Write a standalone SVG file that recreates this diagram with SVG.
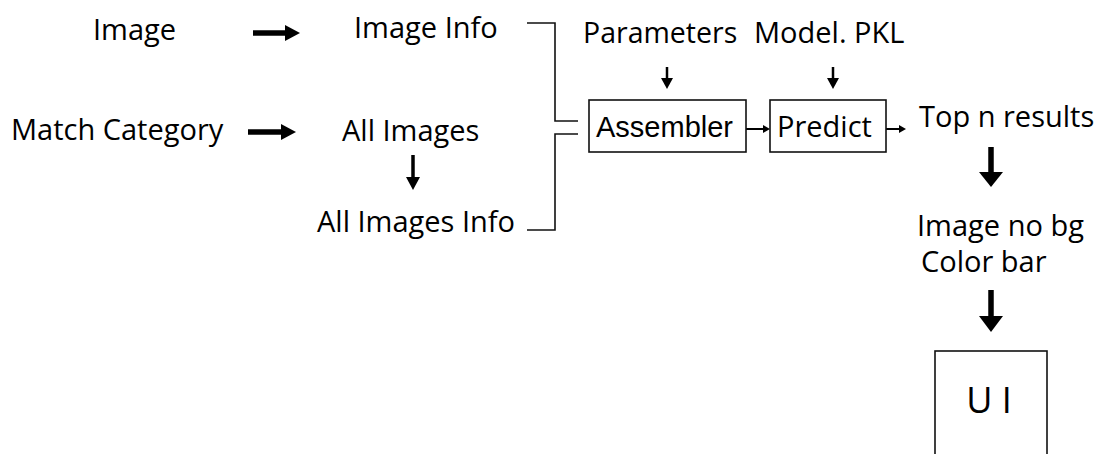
<svg xmlns="http://www.w3.org/2000/svg" width="1098" height="454" viewBox="0 0 1098 454">
  <style>
    .t { font-family: "Open Sans", "Noto Sans", sans-serif; font-size: 29px; fill: #000; }
    .ta { font-family: "Liberation Sans", Arial, sans-serif; font-size: 29px; fill: #000; }
    .t.narrow { font-size: 28.5px; }
    .t.big { font-size: 36px; }
    .box { fill: #fff; stroke: #111; stroke-width: 1.6; }
    .line { fill: none; stroke: #111; stroke-width: 1.6; }
    .thick { fill: none; stroke: #000; stroke-width: 5.5; }
    .mid { fill: none; stroke: #000; stroke-width: 3.5; }
    .thin { fill: none; stroke: #000; stroke-width: 2.5; }
    .hair { fill: none; stroke: #000; stroke-width: 2; }
    .head { fill: #000; }
  </style>
  <rect width="1098" height="454" fill="#fff"/>

  <g id="connectors">
    <!-- Image -> Image Info -->
    <line class="thick" x1="253" y1="33" x2="287" y2="33"/>
    <polygon class="head" points="285,25 300,33 285,41"/>
    <!-- Match Category -> All Images -->
    <line class="thick" x1="248" y1="132" x2="283" y2="132"/>
    <polygon class="head" points="281,124 296,132 281,140"/>
    <!-- All Images -> All Images Info -->
    <line class="mid" x1="413" y1="155" x2="413" y2="179"/>
    <polygon class="head" points="406,177 413,190 420,177"/>
    <!-- bracket joining both info streams into Assembler -->
    <polyline class="line" points="527,23 555,23 555,121 578,121"/>
    <polyline class="line" points="578,134 555,134 555,230 527,230"/>
    <!-- Parameters -> Assembler -->
    <line class="thin" x1="667" y1="67" x2="667" y2="80"/>
    <polygon class="head" points="661,78 667,89 673,78"/>
    <!-- Model.PKL -> Predict -->
    <line class="thin" x1="833" y1="67" x2="833" y2="80"/>
    <polygon class="head" points="827,78 833,89 839,78"/>
    <!-- Assembler -> Predict -->
    <line class="hair" x1="746" y1="129" x2="764" y2="129"/>
    <polygon class="head" points="763,125 770,129 763,133"/>
    <!-- Predict -> Top n results -->
    <line class="hair" x1="886" y1="129" x2="900" y2="129"/>
    <polygon class="head" points="899,125 906,129 899,133"/>
    <!-- Top n results -> Image no bg -->
    <line class="thick" x1="991" y1="147" x2="991" y2="174"/>
    <polygon class="head" points="979,172 991,187 1003,172"/>
    <!-- Color bar -> UI -->
    <line class="thick" x1="991" y1="290" x2="991" y2="318"/>
    <polygon class="head" points="979,316 991,332 1003,316"/>
  </g>

  <g id="image"><text class="t" x="93" y="40">Image</text></g>
  <g id="image-info"><text class="t" x="354" y="38">Image Info</text></g>
  <g id="match-category"><text class="t" x="11" y="140">Match Category</text></g>
  <g id="all-images"><text class="t" x="342" y="141">All Images</text></g>
  <g id="all-images-info"><text class="t" x="317" y="232">All Images Info</text></g>
  <g id="parameters"><text class="t narrow" x="583" y="43">Parameters</text></g>
  <g id="model-pkl"><text class="t" x="754" y="43">Model. PKL</text></g>

  <g id="assembler">
    <rect class="box" x="589" y="100" width="157" height="52"/>
    <text class="ta" x="596" y="137">Assembler</text>
  </g>
  <g id="predict">
    <rect class="box" x="770" y="100" width="116" height="52"/>
    <text class="t" x="777" y="137">Predict</text>
  </g>

  <g id="top-n-results"><text class="t" x="919" y="127">Top n results</text></g>
  <g id="post-process">
    <text class="t" x="917" y="236">Image no bg</text>
    <text class="t" x="921" y="272">Color bar</text>
  </g>
  <g id="ui">
    <rect class="box" x="935" y="351" width="112" height="110"/>
    <text class="t big" x="989" y="413" text-anchor="middle">U I</text>
  </g>
</svg>
